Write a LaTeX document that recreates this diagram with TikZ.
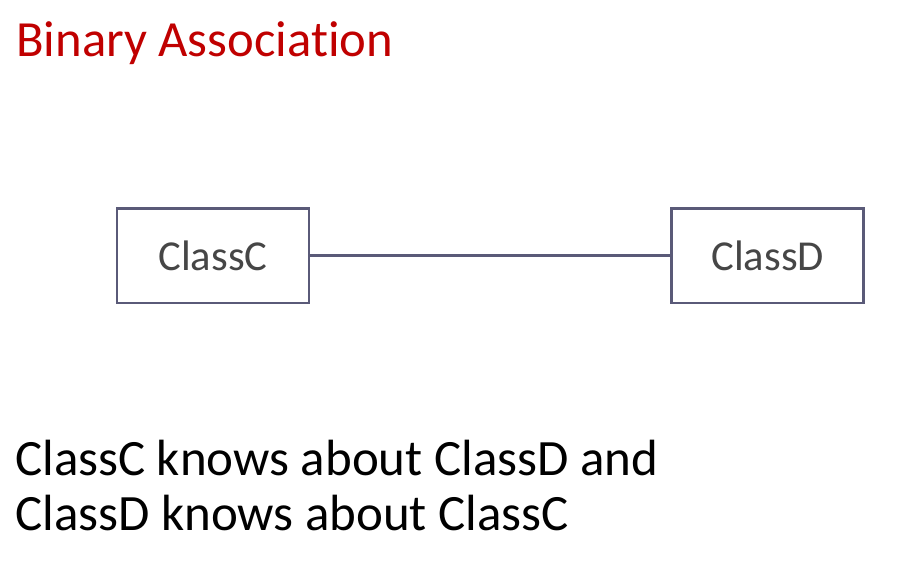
\documentclass[tikz,border=0pt]{standalone}
\usepackage{fontspec}
\setmainfont{Carlito}[Ligatures=NoCommon]
\usetikzlibrary{positioning}
\definecolor{assocred}{RGB}{192,0,0}
\definecolor{assocslate}{RGB}{90,90,120}
\definecolor{assocgray}{RGB}{70,70,70}

\begin{document}
\begin{tikzpicture}[
  x=0.75pt, y=-0.75pt,
  classbox/.style={draw=assocslate, fill=white, line width=2pt,
                   minimum width=144pt, minimum height=71pt,
                   font=\fontsize{32}{38}\selectfont, text=assocgray},
  heading/.style={anchor=base west, inner sep=0pt, assocred,
                  font=\fontsize{38}{45}\selectfont},
  note/.style={anchor=base west, inner sep=0pt, black,
               font=\fontsize{38.2}{45}\selectfont},
  assoc/.style={assocslate, line width=1.7pt},
]
  \useasboundingbox (0,0) rectangle (906,574);

  \node[heading] (title) at (16,57) {Binary Association};

  \node[classbox] (classC) at (213,255.5) {ClassC};
  \node[classbox, right=270pt of classC] (classD) {ClassD};

  \draw[assoc] (classC) -- (classD);

  % Explanation
  \node[note] (line1) at (15,475) {ClassC knows about ClassD and};
  \node[note] (line2) at (15,530) {ClassD knows about ClassC};
\end{tikzpicture}
\end{document}
